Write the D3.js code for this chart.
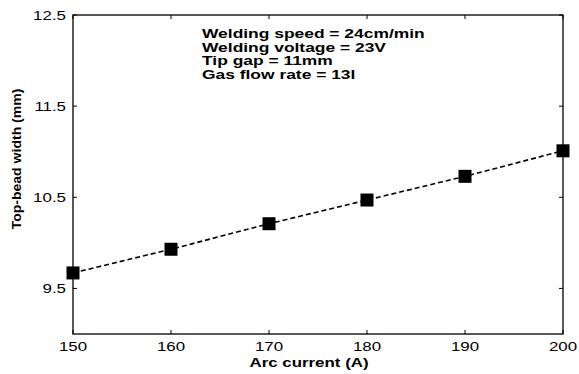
<!DOCTYPE html>
<html>
<head>
<meta charset="utf-8">
<script src="https://cdn.jsdelivr.net/npm/d3@7/dist/d3.min.js"></script>
<style>
  html, body { margin: 0; padding: 0; background: #fff; }
  svg { display: block; }
  text { font-family: "Liberation Sans", Arial, Helvetica, sans-serif; fill: #000; }
</style>
</head>
<body>
<script>
const arcCurrent = [150, 160, 170, 180, 190, 200];
const beadWidth = [9.67, 9.93, 10.21, 10.47, 10.73, 11.01];
const xTicks = [150, 160, 170, 180, 190, 200];
const yTicks = [9.5, 10.5, 11.5, 12.5];
const notes = [
  "Welding speed = 24cm/min",
  "Welding voltage = 23V",
  "Tip gap = 11mm",
  "Gas flow rate = 13l"
];
const xLabel = "Arc current (A)";
const yLabel = "Top-bead width (mm)";

const W = 579, H = 374;
const m = { left: 73, right: 16, top: 15, bottom: 40 };
const sx = 1.3; // horizontal stretch of the scanned text

const svg = d3.select("body").append("svg").attr("width", W).attr("height", H);

const x = d3.scaleLinear().domain([150, 200]).range([m.left, W - m.right]);
const y = d3.scaleLinear().domain([9, 12.5]).range([H - m.bottom, m.top]);

const tickLen = 4;
const g = svg.append("g");

// box
g.append("rect")
  .attr("x", x(150)).attr("y", y(12.5))
  .attr("width", x(200) - x(150)).attr("height", y(9) - y(12.5))
  .attr("fill", "none").attr("stroke", "#000").attr("stroke-width", 1.3);

// x ticks (bottom and top, inward)
xTicks.forEach(t => {
  g.append("line").attr("x1", x(t)).attr("x2", x(t))
    .attr("y1", y(9)).attr("y2", y(9) - tickLen).attr("stroke", "#000").attr("stroke-width", 1);
  g.append("line").attr("x1", x(t)).attr("x2", x(t))
    .attr("y1", y(12.5)).attr("y2", y(12.5) + tickLen).attr("stroke", "#000").attr("stroke-width", 1);
  g.append("text")
    .attr("transform", `translate(${x(t)},351) scale(${sx},1)`)
    .attr("text-anchor", "middle").attr("font-size", 13)
    .text(d3.format("d")(t));
});

// y ticks (left and right, inward)
yTicks.forEach(t => {
  g.append("line").attr("x1", x(150)).attr("x2", x(150) + tickLen)
    .attr("y1", y(t)).attr("y2", y(t)).attr("stroke", "#000").attr("stroke-width", 1);
  g.append("line").attr("x1", x(200)).attr("x2", x(200) - tickLen)
    .attr("y1", y(t)).attr("y2", y(t)).attr("stroke", "#000").attr("stroke-width", 1);
  g.append("text")
    .attr("transform", `translate(66,${y(t) + 4.6}) scale(${sx},1)`)
    .attr("text-anchor", "end").attr("font-size", 13)
    .text(d3.format(".1f")(t));
});

// axis labels
g.append("text")
  .attr("transform", `translate(309,367) scale(${sx},1)`)
  .attr("text-anchor", "middle").attr("font-size", 13).attr("font-weight", "bold")
  .text(xLabel);
g.append("text")
  .attr("transform", `translate(20.5,159) rotate(-90) scale(1.17,1)`)
  .attr("text-anchor", "middle").attr("font-size", 12).attr("font-weight", "bold")
  .text(yLabel);

// annotation
notes.forEach((n, i) => {
  g.append("text")
    .attr("transform", `translate(202,${38 + i * 13.7}) scale(1.34,1)`)
    .attr("font-size", 13).attr("font-weight", "bold")
    .text(n);
});

// data
const pts = arcCurrent.map((c, i) => [c, beadWidth[i]]);
g.append("path")
  .datum(pts)
  .attr("d", d3.line().x(d => x(d[0])).y(d => y(d[1])))
  .attr("fill", "none").attr("stroke", "#000").attr("stroke-width", 1.6)
  .attr("stroke-dasharray", "5,3");

const s = 13;
g.selectAll("rect.pt").data(pts).join("rect")
  .attr("class", "pt")
  .attr("x", d => x(d[0]) - s / 2).attr("y", d => y(d[1]) - s / 2)
  .attr("width", s).attr("height", s)
  .attr("fill", "#000");
</script>
</body>
</html>
